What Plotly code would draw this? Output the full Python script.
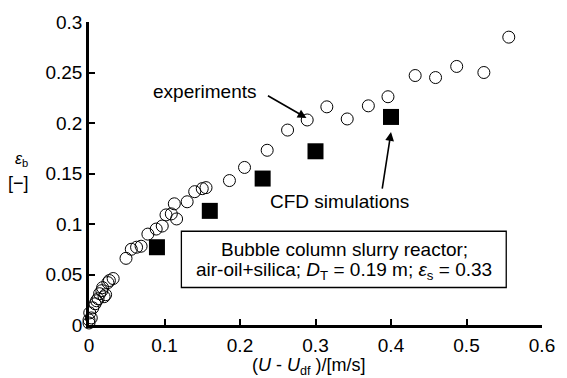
import plotly.graph_objects as go

exp_x = [0.556, 0.523, 0.487, 0.459, 0.432, 0.396, 0.370, 0.342, 0.315, 0.289,
         0.263, 0.236, 0.206, 0.186, 0.150, 0.140, 0.155, 0.130, 0.113, 0.109,
         0.102, 0.116, 0.097, 0.089, 0.078, 0.069, 0.063, 0.056, 0.049, 0.032,
         0.025, 0.018, 0.014, 0.012, 0.008, 0.005, 0.001, 0.000, 0.003, 0.010,
         0.017, 0.027, 0.000, 0.020, 0.022]
exp_y = [0.285, 0.250, 0.256, 0.245, 0.247, 0.226, 0.217, 0.204, 0.216, 0.203,
         0.193, 0.173, 0.156, 0.143, 0.135, 0.132, 0.136, 0.122, 0.120, 0.110,
         0.109, 0.105, 0.098, 0.095, 0.090, 0.078, 0.077, 0.075, 0.066, 0.046,
         0.042, 0.037, 0.031, 0.026, 0.021, 0.017, 0.012, 0.005, 0.007, 0.024,
         0.034, 0.044, 0.002, 0.028, 0.030]

cfd_x = [0.09, 0.16, 0.23, 0.30, 0.40]
cfd_y = [0.077, 0.113, 0.145, 0.172, 0.206]

FONT = "Liberation Sans, Arial, sans-serif"

L, R, T, B = 89, 22, 18, 53
W, H = 567, 378
PW, PH = W - L - R, H - T - B


def px(x):
    return (x - L) / PW


def py(y):
    return (H - B - y) / PH


fig = go.Figure()
fig.add_trace(go.Scatter(x=exp_x, y=exp_y, mode="markers", name="experiments",
                         marker=dict(symbol="circle-open", size=12, color="black",
                                     line=dict(width=1, color="black")),
                         cliponaxis=False))
fig.add_trace(go.Scatter(x=cfd_x, y=cfd_y, mode="markers", name="CFD simulations",
                         marker=dict(symbol="square", size=16, color="black"),
                         cliponaxis=False))

axis_common = dict(showline=True, linewidth=2.5, linecolor="black",
                   ticks="inside", ticklen=6, tickwidth=2, tickcolor="black",
                   showgrid=False, zeroline=False,
                   tickfont=dict(size=19, family=FONT, color="black"))

fig.update_layout(
    width=W, height=H,
    margin=dict(l=L, r=R, t=T, b=B),
    plot_bgcolor="white", paper_bgcolor="white",
    showlegend=False,
    font=dict(family=FONT, size=19, color="black"),
    xaxis=dict(range=[0, 0.6], dtick=0.1, ticklabelstandoff=1, **axis_common),
    yaxis=dict(range=[0, 0.3], dtick=0.05, **axis_common),
)

# arrows
fig.add_annotation(x=0.288, y=0.205, ax=-40, ay=-23, xref="x", yref="y",
                   text="", showarrow=True, arrowhead=2,
                   arrowsize=1.1, arrowwidth=1.6, arrowcolor="black")
fig.add_annotation(x=0.400, y=0.191, ax=-9, ay=58, xref="x", yref="y",
                   text="", showarrow=True, arrowhead=2,
                   arrowsize=1.1, arrowwidth=1.6, arrowcolor="black")

fig.add_annotation(x=px(206), y=py(88), xref="paper", yref="paper", text="experiments",
                   xanchor="center", yanchor="middle", showarrow=False, font=dict(size=19))
fig.add_annotation(x=px(341), y=py(200), xref="paper", yref="paper",
                   xanchor="center", yanchor="middle",
                   text="CFD simulations", showarrow=False, font=dict(size=19))

# info box
fig.add_shape(type="rect", xref="paper", yref="paper",
              x0=px(182), x1=px(509), y0=py(230), y1=py(287),
              line=dict(color="black", width=1.3), fillcolor="white", layer="above")
fig.add_annotation(x=px(346), y=py(248), xref="paper", yref="paper",
                   xanchor="center", yanchor="middle",
                   text="Bubble column slurry reactor;", showarrow=False, font=dict(size=19))
fig.add_annotation(x=px(346), y=py(270), xref="paper", yref="paper",
                   xanchor="center", yanchor="middle",
                   text="air-oil+silica; <i>D</i><sub>T</sub> = 0.19 m; <i>ε</i><sub>s</sub> = 0.33",
                   showarrow=False, font=dict(size=19))

# axis titles
fig.add_annotation(x=px(310), y=py(367), xref="paper", yref="paper",
                   xanchor="center", yanchor="middle",
                   text="(<i>U</i> - <i>U</i><sub>df</sub> )/[m/s]", showarrow=False,
                   font=dict(size=18))
fig.add_annotation(x=px(21), y=py(157), xref="paper", yref="paper",
                   xanchor="center", yanchor="middle",
                   text="<i>ε</i><sub>b</sub>", showarrow=False, font=dict(size=16))
fig.add_annotation(x=px(18), y=py(181), xref="paper", yref="paper",
                   xanchor="center", yanchor="middle",
                   text="[−]", showarrow=False, font=dict(size=18))

fig.write_html("out.html")
